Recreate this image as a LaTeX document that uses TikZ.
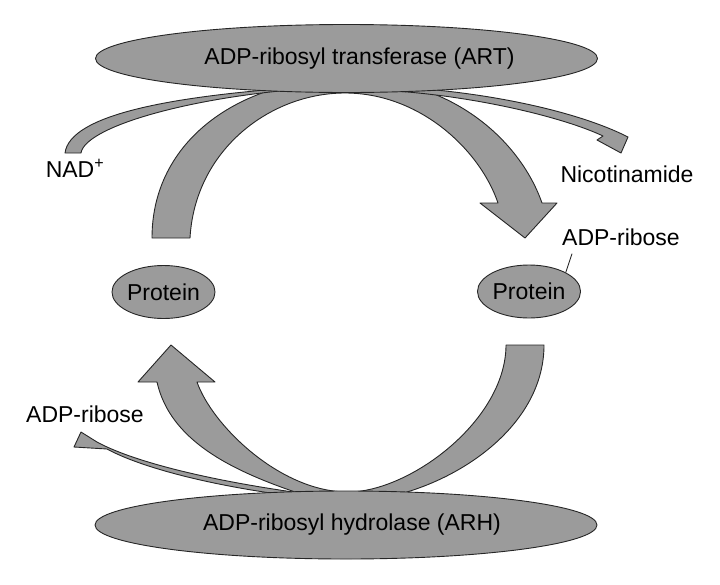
\documentclass[tikz,border=0pt]{standalone}
\usepackage{fontspec}
\setmainfont{Liberation Sans}
\usetikzlibrary{shapes.geometric}
\definecolor{bandgray}{HTML}{9B9B9B}
\definecolor{edgegray}{HTML}{262626}

\begin{document}
\begin{tikzpicture}[x=1pt, y=-1pt,
    font=\fontsize{23}{27}\selectfont,
    band/.style={fill=bandgray, draw=edgegray, line width=0.9pt, line join=round},
    enzyme/.style={ellipse, fill=bandgray, draw=edgegray, line width=0.9pt,
        minimum width=502pt, minimum height=68pt, inner sep=0pt},
    protein/.style={ellipse, fill=bandgray, draw=edgegray, line width=0.9pt,
        minimum width=96pt, minimum height=53pt, inner sep=0pt},
    lbl/.style={inner sep=2pt},
    tie/.style={draw=edgegray, line width=0.9pt}]

    \useasboundingbox (0,0) rectangle (720,584);

    % Upper arc: Protein -> ART -> Protein
    \draw[band] (152,238) .. controls (152,140) and (240,80) .. (345,78)
        .. controls (450,76) and (520,140) .. (542,203)
        -- (557,203) -- (525,238) -- (480,203) -- (498,203)
        .. controls (480,150) and (420,93) .. (345,93)
        .. controls (270,93) and (195,150) .. (190,238) -- cycle;

    % NAD+ in
    \draw[band] (65,153) .. controls (70,115) and (170,97) .. (290,88)
        -- (290,90) .. controls (180,100) and (85,128) .. (81,153) -- cycle;

    % Nicotinamide out
    \draw[band] (395,87) .. controls (480,91) and (575,110) .. (628,137)
        -- (621,153) -- (597,140) -- (603,136)
        .. controls (565,118) and (480,97) .. (395,91) -- cycle;

    % Lower arc: Protein -> ARH -> Protein
    \draw[band] (506,345) -- (544,345) .. controls (544,420) and (470,475) .. (400,494)
        -- (350,512) -- (298,493)
        .. controls (230,470) and (170,440) .. (157,382)
        -- (138,382) -- (171,345) -- (215,382) -- (197,382)
        .. controls (212,425) and (280,492) .. (348,492)
        .. controls (410,492) and (506,420) .. (506,345) -- cycle;

    % ADP-ribose out
    \draw[band] (300,493) .. controls (200,479) and (130,460) .. (97,442)
        -- (81,432) -- (74,447) -- (107,449)
        .. controls (140,467) and (210,486) .. (300,497) -- cycle;

    % Enzymes
    \node[enzyme, label={[xshift=13pt]center:ADP-ribosyl transferase (ART)}] (art) at (346.5,58.5) {};
    \node[enzyme, label={[xshift=6pt]center:ADP-ribosyl hydrolase (ARH)}] (arh) at (346,525) {};

    % Proteins
    \node[protein] (protL) at (163.5,292) {Protein};
    \node[protein] (protR) at (529,291.5) {Protein};

    % Labels
    \node[lbl] (nad) at (75,168) {NAD\textsuperscript{+}};
    \node[lbl] (nic) at (627,174) {Nicotinamide};
    \node[lbl] (adpR) at (621,237) {ADP-ribose};
    \node[lbl] (adpL) at (85,414) {ADP-ribose};

    \draw[tie] (protR.north east) -- ([shift={(12,6)}]adpR.south west);
\end{tikzpicture}
\end{document}
